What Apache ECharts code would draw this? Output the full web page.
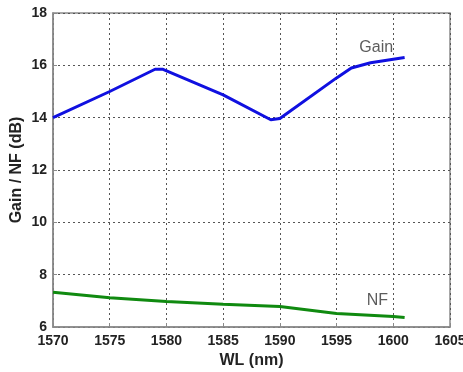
<!DOCTYPE html>
<html>
<head>
<meta charset="utf-8">
<script src="https://cdn.jsdelivr.net/npm/echarts@6/dist/echarts.min.js"></script>
<style>
  html, body { margin: 0; padding: 0; background: #fff; }
  #chart { width: 463px; height: 372px; }
</style>
</head>
<body>
<div id="chart"></div>
<script>
// Wavelength sweep (nm) with amplifier gain and noise figure (dB)
const gainWL   = [1570, 1575, 1579.0, 1579.7, 1585, 1589.2, 1590, 1595, 1596.3, 1598, 1601];
const gainDB   = [14.0, 15.0, 15.85, 15.85, 14.87, 13.92, 13.97, 15.52, 15.9, 16.1, 16.3];
const nfWL     = [1570, 1575, 1580, 1585, 1590, 1595, 1600, 1601];
const nfDB     = [7.33, 7.12, 6.97, 6.87, 6.78, 6.52, 6.40, 6.36];
const xTicks   = [1570, 1575, 1580, 1585, 1590, 1595, 1600, 1605];
const yTicks   = [6, 8, 10, 12, 14, 16, 18];
// curve names written beside each trace
const curveNames = ['Gain', 'NF'];
const namePos    = [[1598.5, 16.66], [1598.6, 7.0]];

const pairs = (xs, ys) => xs.map((x, i) => [x, ys[i]]);

const chart = echarts.init(document.getElementById('chart'), null, { renderer: 'canvas' });
const font = 'Liberation Sans, Arial, sans-serif';

chart.setOption({
  animation: false,
  grid: {
    left: 53, right: 13, top: 13, bottom: 45,
    containLabel: false, outerBoundsMode: 'none',
    show: true, borderColor: '#8a8a8a', borderWidth: 1.5, backgroundColor: '#fff'
  },
  xAxis: {
    type: 'value',
    min: xTicks[0], max: xTicks[xTicks.length - 1], interval: 5,
    name: 'WL (nm)', nameLocation: 'middle', nameGap: 26, nameMoveOverlap: false,
    nameTextStyle: { fontFamily: font, fontWeight: 'bold', fontSize: 16, color: '#222' },
    axisLine: { show: true, lineStyle: { color: '#8a8a8a', width: 1.5 } },
    axisTick: { show: true, inside: true, length: 4, lineStyle: { color: '#8a8a8a' } },
    axisLabel: { fontFamily: font, fontWeight: 'bold', fontSize: 14, color: '#222', margin: 7,
                 formatter: v => String(v) },
    splitLine: { show: true, lineStyle: { color: '#555', type: [2, 3], width: 1 } }
  },
  yAxis: {
    type: 'value',
    min: yTicks[0], max: yTicks[yTicks.length - 1], interval: 2,
    name: 'Gain / NF (dB)', nameLocation: 'middle', nameGap: 28, nameMoveOverlap: false,
    nameTextStyle: { fontFamily: font, fontWeight: 'bold', fontSize: 16, color: '#222' },
    axisLine: { show: true, lineStyle: { color: '#8a8a8a', width: 1.5 } },
    axisTick: { show: true, inside: true, length: 4, lineStyle: { color: '#8a8a8a' } },
    axisLabel: { fontFamily: font, fontWeight: 'bold', fontSize: 14, color: '#222', margin: 6,
                 formatter: v => String(v) },
    splitLine: { show: true, lineStyle: { color: '#555', type: [2, 3], width: 1 } }
  },
  series: [
    {
      name: 'Gain', type: 'line', data: pairs(gainWL, gainDB),
      symbol: 'none', lineStyle: { color: '#1010e0', width: 3 }
    },
    {
      name: 'NF', type: 'line', data: pairs(nfWL, nfDB),
      symbol: 'none', lineStyle: { color: '#108a10', width: 3 }
    },
    {
      name: 'names', type: 'scatter', silent: true,
      data: namePos.map((p, i) => ({ value: p, name: curveNames[i] })),
      symbolSize: 1, itemStyle: { color: 'rgba(0,0,0,0)' },
      label: { show: true, position: 'inside', formatter: p => p.name,
               fontFamily: font, fontSize: 16, color: '#333' }
    }
  ]
});
</script>
</body>
</html>
